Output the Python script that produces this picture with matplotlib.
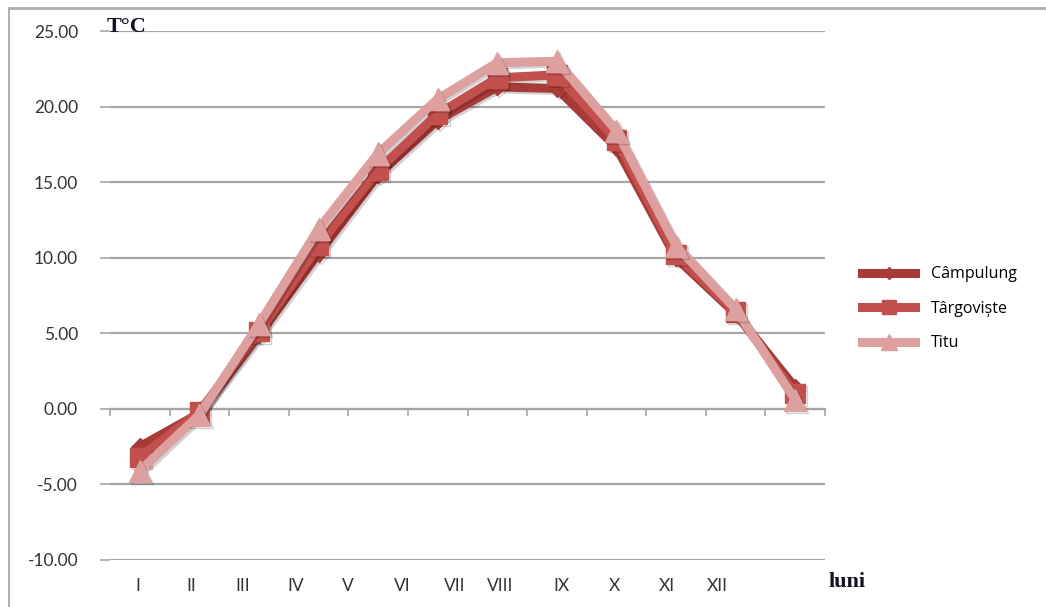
import matplotlib
matplotlib.use("Agg")
import matplotlib.pyplot as plt
import matplotlib.patheffects as pe
from matplotlib.lines import Line2D

months = ["I", "II", "III", "IV", "V", "VI", "VII", "VIII", "IX", "X", "XI", "XII"]
campulung = [-2.5, -0.3, 4.9, 10.3, 15.5, 19.1, 21.3, 21.2, 17.3, 10.0, 6.3, 1.4]
targoviste = [-3.2, -0.2, 5.1, 10.8, 15.8, 19.5, 21.9, 22.1, 17.8, 10.2, 6.4, 1.0]
titu = [-4.1, -0.4, 5.6, 11.9, 16.9, 20.5, 22.9, 23.0, 18.4, 10.8, 6.6, 0.6]
series_names = ["Câmpulung", "Târgoviște", "Titu"]
# label positions (in category units) as they appear in the original chart
label_pos = [-0.03, 0.87, 1.73, 2.62, 3.49, 4.40, 5.29, 6.04, 7.08, 7.97, 8.84, 9.70]
yticks = [-10, -5, 0, 5, 10, 15, 20, 25]

W, H = 1046, 607
fig = plt.figure(figsize=(W / 100, H / 100), dpi=100)
ax = fig.add_axes([110 / W, 1 - 560 / H, 715 / W, 529 / H])

colors = ["#A83A38", "#C4504D", "#DDA09E"]
markers = ["D", "s", "^"]
msizes = [8.5, 14, 16]
data = [campulung, targoviste, titu]
x = list(range(len(months)))

shadow = [pe.SimpleLineShadow(offset=(1.5, -1.5), shadow_color="black", alpha=0.18), pe.Normal()]
for vals, c, m, ms, z in zip(data, colors, markers, msizes, [3, 4, 5]):
    ax.plot(x, vals, color=c, lw=6.5, marker=m, ms=ms, mfc=c, mec=c,
            solid_joinstyle="round", zorder=z, path_effects=shadow)

ax.set_xlim(-0.5, 11.5)
ax.set_ylim(-10, 25)
ax.set_yticks(yticks)
ax.set_yticklabels([f"{v:.2f}" for v in yticks], fontfamily="Lato", fontsize=12.5, color="#333333")
ax.tick_params(axis="y", length=7, width=1.2, color="#a6a6a6", pad=16)
ax.grid(axis="y", color="#a6a6a6", lw=1.6)
ax.set_axisbelow(True)
for s in ["left", "right", "top"]:
    ax.spines[s].set_visible(False)
ax.spines["bottom"].set_position(("data", 0))
ax.spines["bottom"].set_color("#a6a6a6")
ax.spines["bottom"].set_linewidth(1.6)
ax.set_xticks([i - 0.5 for i in range(len(months) + 1)])
ax.set_xticklabels([])
ax.tick_params(axis="x", length=5, width=1.2, color="#a6a6a6", direction="out")

for p, lab in zip(label_pos, months):
    ax.text(p, -11.7, lab, ha="center", va="center", fontfamily="Lato",
            fontsize=12.5, color="#333333")

fig.text(107 / W, 1 - 27 / H, "T°C", fontfamily="Liberation Serif", fontweight="bold",
         fontsize=16, color="#111122", ha="left", va="center")
fig.text(829 / W, 1 - 582 / H, "luni", fontfamily="Liberation Serif", fontweight="bold",
         fontsize=16, color="#111122", ha="left", va="center")

handles = [Line2D([0], [0], color=c, lw=6.5, marker=m, ms=ms * 0.75, mfc=c, mec=c)
           for c, m, ms in zip(colors, markers, msizes)]
fig.legend(handles, series_names, loc="upper left", bbox_to_anchor=(848 / W, 1 - 252 / H),
           frameon=False, prop={"family": "Open Sans", "size": 11.5}, handlelength=3.3,
           labelspacing=1.15, handletextpad=1.0)

# outer chart border (left and top visible)
fig.add_artist(Line2D([8.5 / W, 8.5 / W], [0, 1 - 8 / H], color="#b0b0b0", lw=1.5))
fig.add_artist(Line2D([8.5 / W, 1], [1 - 8 / H, 1 - 8 / H], color="#b0b0b0", lw=2))

fig.savefig("out.png", dpi=100)
